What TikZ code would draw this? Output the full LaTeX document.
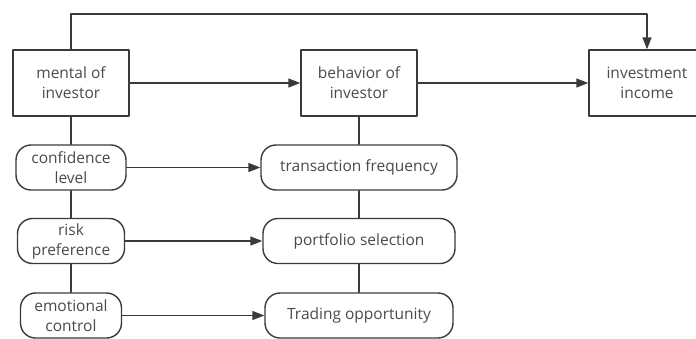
\documentclass[tikz,border=0pt]{standalone}
\usepackage{fontspec}
\setmainfont{Open Sans}
\usetikzlibrary{arrows.meta}
\definecolor{linegray}{HTML}{3A3A3A}
\definecolor{textgray}{HTML}{4A4A4A}

\begin{document}
\begin{tikzpicture}[x=1pt,y=-1pt, line cap=round, line join=round,
    >={Triangle[length=12pt,width=9pt]},
    link/.style={draw=linegray, line width=1.4pt},
    mainbox/.style={draw=linegray, line width=1.4pt, minimum width=116pt, minimum height=66pt,
      align=center, text=textgray, font=\fontsize{15.5}{20}\selectfont},
    factor/.style={draw=linegray, line width=1.4pt, rounded corners=15pt, minimum height=45pt,
      align=center, text=textgray, font=\fontsize{15.5}{20}\selectfont, inner xsep=2pt}]
  \useasboundingbox (0,0) rectangle (696,338);
  % top row
  \node[mainbox] (mental) at (71,83) {mental of\\investor};
  \node[mainbox] (behavior) at (359,83) {behavior of\\investor};
  \node[mainbox] (income) at (647,83) {investment\\income};
  % left column
  \node[factor, minimum width=110pt] (confidence) at (71,167.5) {confidence\\level};
  \node[factor, minimum width=107pt] (risk) at (71,241) {risk\\preference};
  \node[factor, minimum width=101pt] (emotion) at (71,315.5) {emotional\\control};
  % right column
  \node[factor, minimum width=196pt] (frequency) at (359,167.5) {transaction frequency};
  \node[factor, minimum width=192pt] (portfolio) at (359,241) {portfolio selection};
  \node[factor, minimum width=188pt] (opportunity) at (359,315.5) {Trading opportunity};
  % connectors
  \coordinate (top) at (71,14);
  \draw[link,->] (mental.north) -- (top) -| (income.north);
  \draw[link,->] (mental) -- (behavior);
  \draw[link,->] (behavior) -- (income);
  \draw[link] (mental) -- (confidence) -- (risk) -- (emotion);
  \draw[link] (behavior) -- (frequency) -- (portfolio) -- (opportunity);
  \draw[link,->] (confidence) -- (frequency);
  \draw[link,->] (risk) -- (portfolio);
  \draw[link,->] (emotion) -- (opportunity);
\end{tikzpicture}
\end{document}
